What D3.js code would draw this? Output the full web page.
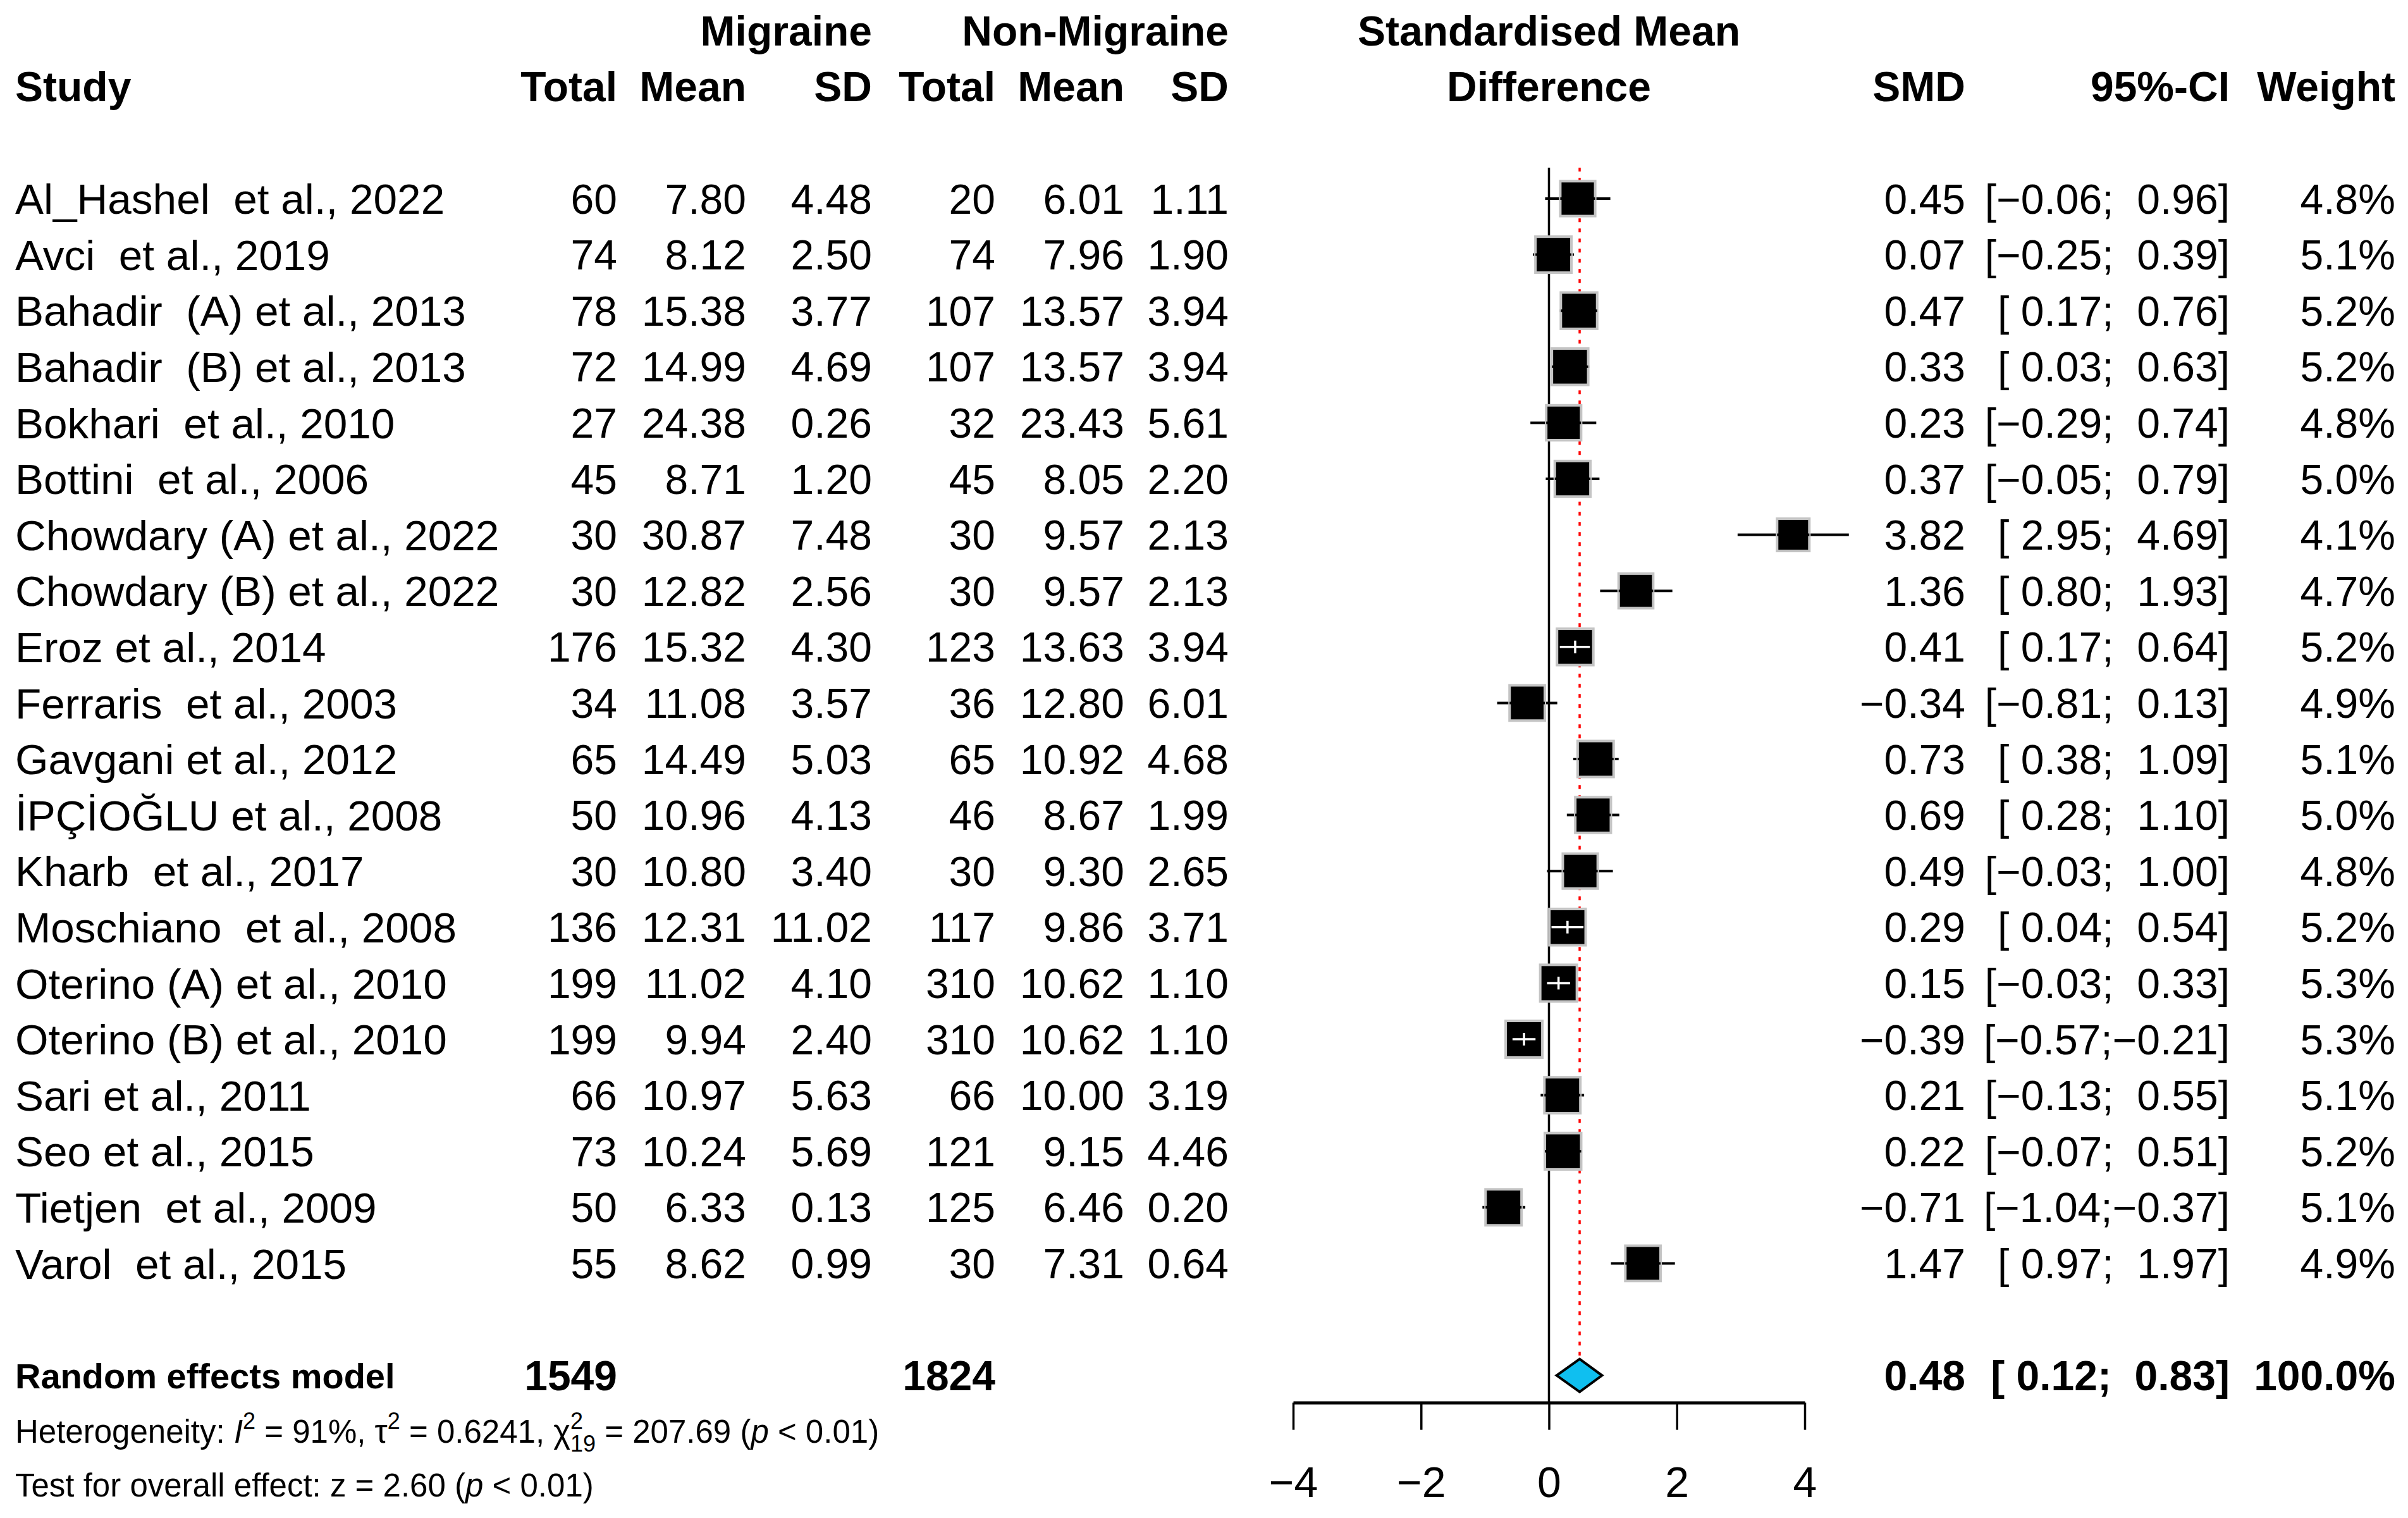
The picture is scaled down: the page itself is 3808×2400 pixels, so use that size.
<!DOCTYPE html>
<html>
<head>
<meta charset="utf-8">
<script src="https://cdn.jsdelivr.net/npm/d3@7"></script>
<style>
  body { margin: 0; background: #fff; }
  text { font-family: "Liberation Sans", Arial, sans-serif; white-space: pre; }
</style>
</head>
<body>
<svg id="chart" width="3808" height="2400"></svg>
<script>
// study rows
var studies = ["Al_Hashel  et al., 2022", "Avci  et al., 2019", "Bahadir  (A) et al., 2013",
  "Bahadir  (B) et al., 2013", "Bokhari  et al., 2010", "Bottini  et al., 2006",
  "Chowdary (A) et al., 2022", "Chowdary (B) et al., 2022", "Eroz et al., 2014",
  "Ferraris  et al., 2003", "Gavgani et al., 2012", "İPÇİOĞLU et al., 2008",
  "Kharb  et al., 2017", "Moschiano  et al., 2008", "Oterino (A) et al., 2010",
  "Oterino (B) et al., 2010", "Sari et al., 2011", "Seo et al., 2015",
  "Tietjen  et al., 2009", "Varol  et al., 2015"];
var migTotal = [60, 74, 78, 72, 27, 45, 30, 30, 176, 34, 65, 50, 30, 136, 199, 199, 66, 73, 50, 55];
var migMean = [7.80, 8.12, 15.38, 14.99, 24.38, 8.71, 30.87, 12.82, 15.32, 11.08, 14.49, 10.96, 10.80, 12.31, 11.02, 9.94, 10.97, 10.24, 6.33, 8.62];
var migSD = [4.48, 2.50, 3.77, 4.69, 0.26, 1.20, 7.48, 2.56, 4.30, 3.57, 5.03, 4.13, 3.40, 11.02, 4.10, 2.40, 5.63, 5.69, 0.13, 0.99];
var nonTotal = [20, 74, 107, 107, 32, 45, 30, 30, 123, 36, 65, 46, 30, 117, 310, 310, 66, 121, 125, 30];
var nonMean = [6.01, 7.96, 13.57, 13.57, 23.43, 8.05, 9.57, 9.57, 13.63, 12.80, 10.92, 8.67, 9.30, 9.86, 10.62, 10.62, 10.00, 9.15, 6.46, 7.31];
var nonSD = [1.11, 1.90, 3.94, 3.94, 5.61, 2.20, 2.13, 2.13, 3.94, 6.01, 4.68, 1.99, 2.65, 3.71, 1.10, 1.10, 3.19, 4.46, 0.20, 0.64];
var smd = [0.45, 0.07, 0.47, 0.33, 0.23, 0.37, 3.82, 1.36, 0.41, -0.34, 0.73, 0.69, 0.49, 0.29, 0.15, -0.39, 0.21, 0.22, -0.71, 1.47];
var ciLow = [-0.06, -0.25, 0.17, 0.03, -0.29, -0.05, 2.95, 0.80, 0.17, -0.81, 0.38, 0.28, -0.03, 0.04, -0.03, -0.57, -0.13, -0.07, -1.04, 0.97];
var ciHigh = [0.96, 0.39, 0.76, 0.63, 0.74, 0.79, 4.69, 1.93, 0.64, 0.13, 1.09, 1.10, 1.00, 0.54, 0.33, -0.21, 0.55, 0.51, -0.37, 1.97];
var weight = [4.8, 5.1, 5.2, 5.2, 4.8, 5.0, 4.1, 4.7, 5.2, 4.9, 5.1, 5.0, 4.8, 5.2, 5.3, 5.3, 5.1, 5.2, 5.1, 4.9];

// pooled random effects result
var pooled = { label: "Random effects model", migTotal: 1549, nonTotal: 1824, smd: 0.48, lo: 0.12, hi: 0.83, weight: 100.0 };
var xTicks = [-4, -2, 0, 2, 4];

var fs = 66;          // main font size
var fsSmall = 51;     // footer font size
var base = 0.358;     // half cap height, used to centre text on a row

var svg = d3.select("#chart");
svg.append("rect").attr("width", 3808).attr("height", 2400).attr("fill", "#fff");

var x = d3.scaleLinear().domain([-4, 4]).range([2045, 2854]);
var y = d3.scaleLinear().domain([0, 1]).range([314, 402.6]);   // row index -> y
var box = d3.scaleSqrt().domain([0, 5.3]).range([0, 58]);

var f2 = d3.format(".2f");
var f1 = d3.format(".1f");

function ci(lo, hi) {
  var a = lo < 0 ? f2(lo) : " " + f2(lo);
  var b = hi < 0 ? f2(hi) : "  " + f2(hi);
  return "[" + a + ";" + b + "]";
}

function txt(g, str, xx, row, anchor, size, bold) {
  return g.append("text")
    .attr("x", xx)
    .attr("y", y(row) + base * size)
    .attr("text-anchor", anchor)
    .attr("font-size", size)
    .attr("font-weight", bold ? "bold" : "normal")
    .text(str);
}

// columns (right edges)
var col = { study: 24, mT: 976, mM: 1180, mS: 1379, nT: 1574, nM: 1778, nS: 1943, smd: 3108, ci: 3526, w: 3788 };

var head = svg.append("g");
txt(head, "Migraine", col.mS, -3, "end", fs, true);
txt(head, "Non-Migraine", col.nS, -3, "end", fs, true);
txt(head, "Standardised Mean", x(0), -3, "middle", fs, true);
txt(head, "Study", col.study, -2, "start", fs, true);
txt(head, "Total", col.mT, -2, "end", fs, true);
txt(head, "Mean", col.mM, -2, "end", fs, true);
txt(head, "SD", col.mS, -2, "end", fs, true);
txt(head, "Total", col.nT, -2, "end", fs, true);
txt(head, "Mean", col.nM, -2, "end", fs, true);
txt(head, "SD", col.nS, -2, "end", fs, true);
txt(head, "Difference", x(0), -2, "middle", fs, true);
txt(head, "SMD", col.smd, -2, "end", fs, true);
txt(head, "95%-CI", col.ci, -2, "end", fs, true);
txt(head, "Weight", col.w, -2, "end", fs, true);

var rows = svg.append("g");
studies.forEach(function(s, i) {
  txt(rows, s, col.study, i, "start", 67.5);
  txt(rows, String(migTotal[i]), col.mT, i, "end", fs);
  txt(rows, f2(migMean[i]), col.mM, i, "end", fs);
  txt(rows, f2(migSD[i]), col.mS, i, "end", fs);
  txt(rows, String(nonTotal[i]), col.nT, i, "end", fs);
  txt(rows, f2(nonMean[i]), col.nM, i, "end", fs);
  txt(rows, f2(nonSD[i]), col.nS, i, "end", fs);
  txt(rows, f2(smd[i]), col.smd, i, "end", fs);
  txt(rows, ci(ciLow[i], ciHigh[i]), col.ci, i, "end", fs);
  txt(rows, f1(weight[i]) + "%", col.w, i, "end", fs);
});

// pooled row
var pr = 21;
txt(rows, pooled.label, col.study, pr, "start", 56, true);
txt(rows, String(pooled.migTotal), col.mT, pr, "end", fs, true);
txt(rows, String(pooled.nonTotal), col.nT, pr, "end", fs, true);
txt(rows, f2(pooled.smd), col.smd, pr, "end", fs, true);
txt(rows, ci(pooled.lo, pooled.hi), col.ci, pr, "end", fs, true);
txt(rows, f1(pooled.weight) + "%", col.w, pr, "end", fs, true);

// plot
var plot = svg.append("g");
var axisY = y(pr) + 43;

// line of no effect
plot.append("line")
  .attr("x1", x(0)).attr("x2", x(0))
  .attr("y1", y(-0.55)).attr("y2", axisY)
  .attr("stroke", "#000").attr("stroke-width", 3.5);

// pooled estimate line
plot.append("line")
  .attr("x1", x(pooled.smd)).attr("x2", x(pooled.smd))
  .attr("y1", y(-0.55)).attr("y2", y(pr) - 26)
  .attr("stroke", "#ff0000").attr("stroke-width", 3.5)
  .attr("stroke-dasharray", "6,10");

studies.forEach(function(s, i) {
  var cy = y(i);
  var side = box(weight[i]);
  var x0 = x(ciLow[i]), x1 = x(ciHigh[i]), cx = x(smd[i]);
  var inside = (x1 - x0) < side;
  if (!inside) {
    plot.append("line")
      .attr("x1", x0).attr("x2", x1).attr("y1", cy).attr("y2", cy)
      .attr("stroke", "#000").attr("stroke-width", 4);
  }
  plot.append("rect")
    .attr("x", cx - side / 2).attr("y", cy - side / 2)
    .attr("width", side).attr("height", side)
    .attr("fill", "#000")
    .attr("stroke", "#c4c4c4").attr("stroke-width", 4);
  if (!inside) {
    plot.append("line")
      .attr("x1", Math.max(x0, cx - side / 2)).attr("x2", Math.min(x1, cx + side / 2))
      .attr("y1", cy).attr("y2", cy)
      .attr("stroke", "#000").attr("stroke-width", 4);
  } else {
    // CI narrower than box: white line and tick
    plot.append("line")
      .attr("x1", x0).attr("x2", x1).attr("y1", cy).attr("y2", cy)
      .attr("stroke", "#fff").attr("stroke-width", 3.5);
    plot.append("line")
      .attr("x1", cx).attr("x2", cx).attr("y1", cy - 10).attr("y2", cy + 10)
      .attr("stroke", "#fff").attr("stroke-width", 3.5);
  }
});

// diamond
var dy = y(pr);
plot.append("path")
  .attr("d", "M" + x(pooled.lo) + "," + dy + "L" + x(pooled.smd) + "," + (dy - 26) +
             "L" + x(pooled.hi) + "," + dy + "L" + x(pooled.smd) + "," + (dy + 26) + "Z")
  .attr("fill", "#0fbff0").attr("stroke", "#000").attr("stroke-width", 4)
  .attr("stroke-linejoin", "miter");

// axis
var axis = d3.axisBottom(x).tickValues(xTicks).tickSize(43).tickSizeOuter(0).tickPadding(58)
  .tickFormat(d3.format("d"));
var ag = plot.append("g").attr("transform", "translate(0," + axisY + ")").call(axis);
ag.select(".domain").attr("stroke-width", 5);
ag.selectAll(".tick line").attr("stroke-width", 3.5);
ag.selectAll(".tick text")
  .attr("font-size", 68)
  .attr("font-family", '"Liberation Sans", Arial, sans-serif')
  .attr("fill", "#000");

// footer
var foot = svg.append("g");
var ht = foot.append("text")
  .attr("x", col.study).attr("y", y(22) + base * fsSmall)
  .attr("font-size", fsSmall);
ht.append("tspan").text("Heterogeneity: ");
ht.append("tspan").attr("font-style", "italic").text("I");
ht.append("tspan").attr("font-size", 36).attr("dy", -22).text("2");
ht.append("tspan").attr("dy", 22).text(" = 91%, τ");
ht.append("tspan").attr("font-size", 36).attr("dy", -22).text("2");
ht.append("tspan").attr("dy", 22).text(" = 0.6241, χ");
ht.append("tspan").attr("font-size", 36).attr("dy", 14).text("19");
ht.append("tspan").attr("font-size", 36).attr("dx", -40).attr("dy", -36).text("2");
ht.append("tspan").attr("dx", 20).attr("dy", 22).text(" = 207.69 (");
ht.append("tspan").attr("font-style", "italic").text("p");
ht.append("tspan").text(" < 0.01)");

var tt = foot.append("text")
  .attr("x", col.study).attr("y", y(23) + base * fsSmall - 4)
  .attr("font-size", fsSmall);
tt.append("tspan").text("Test for overall effect: z = 2.60 (");
tt.append("tspan").attr("font-style", "italic").text("p");
tt.append("tspan").text(" < 0.01)");
</script>
</body>
</html>
